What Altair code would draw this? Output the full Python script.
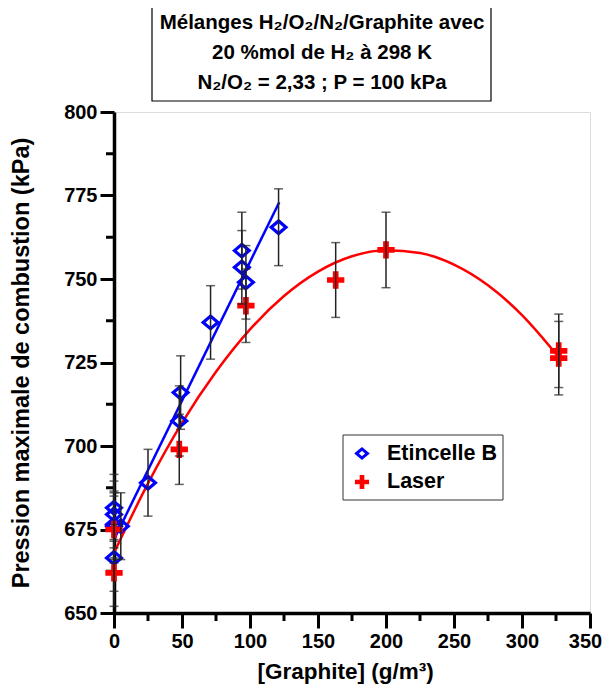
import altair as alt
import pandas as pd

# ---- data ----
etin_x = [0, 0, 0, 0, 0, 5, 25, 48, 49, 71, 94, 94, 97, 121]
etin_y = [681.5, 679.5, 676, 676.5, 666.5, 676, 689, 707.5, 716, 737, 758.5, 753.5, 749, 765.5]
etin_err = [10, 10, 10, 10, 10, 10, 10, 10.5, 11, 11, 11.5, 11, 11, 11.5]

laser_x = [0, 0, 48, 97, 163, 200, 327, 327]
laser_y = [675, 662, 699, 742, 749.7, 758.7, 728.5, 726.3]
laser_err = [10, 10, 10.5, 11, 11.2, 11.3, 11, 11]

fit_b_x = [0, 121.5]
fit_b_y = [672, 773]
fit_l_x = [0, 25, 50, 75, 100, 125, 150, 175, 200, 225, 250, 275, 300, 327]
fit_l_y = [668.0, 688.8, 706.9, 722.2, 734.9, 744.9, 752.2, 756.8, 758.6, 757.8, 754.3, 748.1, 739.2, 726.6]

x_ticks = [0, 50, 100, 150, 200, 250, 300, 350]
x_minor = [25, 75, 125, 175, 225, 275, 325]
y_ticks = [650, 675, 700, 725, 750, 775, 800]
y_minor = [662.5, 687.5, 712.5, 737.5, 762.5, 787.5]

title_lines = ["Mélanges H₂/O₂/N₂/Graphite avec", "20 %mol de H₂ à 298 K", "N₂/O₂ = 2,33 ; P = 100 kPa"]
legend_labels = ["Etincelle B", "Laser"]

FONT = "Liberation Sans"
BLUE = "#0000ff"
RED = "#ff0000"
DIAMOND = "M-1,0L0,-0.85L1,0L0,0.85Z"
CROSS = "M-1,-0.33H-0.33V-1H0.33V-0.33H1V0.33H0.33V1H-0.33V0.33H-1Z"

W, H = 476, 501

df_b = pd.DataFrame({"x": etin_x, "y": etin_y, "err": etin_err})
df_b["lo"] = df_b["y"] - df_b["err"]
df_b["hi"] = df_b["y"] + df_b["err"]
df_l = pd.DataFrame({"x": laser_x, "y": laser_y, "err": laser_err})
df_l["lo"] = df_l["y"] - df_l["err"]
df_l["hi"] = df_l["y"] + df_l["err"]
df_fb = pd.DataFrame({"x": fit_b_x, "y": fit_b_y})
df_fl = pd.DataFrame({"x": fit_l_x, "y": fit_l_y})

xscale = alt.Scale(domain=[0, 350], nice=False, zero=False)
yscale = alt.Scale(domain=[650, 800], nice=False, zero=False)

xaxis = alt.Axis(values=x_ticks, title="[Graphite] (g/m³)", grid=False,
                 labelFont=FONT, labelFontWeight="bold", labelFontSize=20, labelColor="black",
                 labelOffset={"condition": {"test": "datum.value == 350", "value": -5}, "value": 0},
                 titleFont=FONT, titleFontWeight="bold", titleFontSize=22.5, titleColor="black",
                 tickSize=15, tickWidth=3, tickColor="black", domainWidth=3.5, domainColor="black",
                 labelPadding=3, titlePadding=9, titleX=231, labelFlush=False)
yaxis = alt.Axis(values=y_ticks, title="Pression maximale de combustion (kPa)", grid=False,
                 labelFont=FONT, labelFontWeight="bold", labelFontSize=20, labelColor="black",
                 titleFont=FONT, titleFontWeight="bold", titleFontSize=23.5, titleColor="black",
                 tickSize=14, tickWidth=3, tickColor="black", domainWidth=3.5, domainColor="black",
                 labelPadding=3, titlePadding=30, labelFlush=False)

X = lambda: alt.X("x:Q", scale=xscale, axis=xaxis)
Y = lambda f="y": alt.Y(f"{f}:Q", scale=yscale, axis=yaxis)

fit_b = alt.Chart(df_fb).mark_line(color=BLUE, strokeWidth=2.5).encode(x=X(), y=Y())
fit_l = alt.Chart(df_fl).mark_line(color=RED, strokeWidth=2.5, interpolate="monotone").encode(x=X(), y=Y())

pts_b = alt.Chart(df_b).mark_point(shape=DIAMOND, size=220, filled=False, color=BLUE, strokeWidth=3.2, opacity=1).encode(x=X(), y=Y())
pts_l = alt.Chart(df_l).mark_point(shape=CROSS, size=300, filled=True, color=RED, opacity=1).encode(x=X(), y=Y())

def errbars(df):
    bar = alt.Chart(df).mark_rule(color="#222222", strokeWidth=1.5).encode(x=X(), y=Y("lo"), y2="hi:Q")
    cap_lo = alt.Chart(df).mark_tick(color="#222222", orient="horizontal", size=9, thickness=1.5).encode(x=X(), y=Y("lo"))
    cap_hi = alt.Chart(df).mark_tick(color="#222222", orient="horizontal", size=9, thickness=1.5).encode(x=X(), y=Y("hi"))
    return [bar, cap_lo, cap_hi]

# minor ticks
df_xm = pd.DataFrame({"x": x_minor})
minor_x = alt.Chart(df_xm).mark_rule(color="black", strokeWidth=3).encode(
    x=X(), y=alt.value(H), y2=alt.value(H + 8))
df_ym = pd.DataFrame({"y": y_minor})
minor_y = alt.Chart(df_ym).mark_rule(color="black", strokeWidth=3).encode(
    y=Y(), x=alt.value(-8), x2=alt.value(0))

# title box
df_one = pd.DataFrame({"a": [0]})
tbox = alt.Chart(df_one).mark_rect(fill="white", stroke="black", strokeWidth=1.2).encode(
    x=alt.value(38), x2=alt.value(377), y=alt.value(-110), y2=alt.value(-11))
df_t = pd.DataFrame({"t": title_lines, "py": [-89, -59, -29]})
ttext = alt.Chart(df_t).mark_text(font=FONT, fontWeight="bold", fontSize=20.5, color="black",
                                  align="center", baseline="middle").encode(
    x=alt.value(208), y=alt.Y("py:Q", scale=None), text="t:N")

# legend
lbox = alt.Chart(df_one).mark_rect(fill="white", stroke="#333333", strokeWidth=1).encode(
    x=alt.value(229), x2=alt.value(389), y=alt.value(323), y2=alt.value(388))
df_leg = pd.DataFrame({"t": legend_labels, "py": [341.5, 370]})
leg_d = alt.Chart(df_one).mark_point(shape=DIAMOND, size=120, filled=False, color=BLUE, strokeWidth=3, opacity=1).encode(
    x=alt.value(248), y=alt.value(341.5))
leg_c = alt.Chart(df_one).mark_point(shape=CROSS, size=200, filled=True, color=RED, opacity=1).encode(
    x=alt.value(248), y=alt.value(370))
leg_t = alt.Chart(df_leg).mark_text(font=FONT, fontWeight="bold", fontSize=21.5, color="black",
                                    align="left", baseline="middle").encode(
    x=alt.value(273), y=alt.Y("py:Q", scale=None), text="t:N")

layers = [minor_x, minor_y, fit_b, fit_l, pts_b, pts_l] + errbars(df_b) + errbars(df_l) + [tbox, ttext, lbox, leg_d, leg_c, leg_t]

chart = alt.layer(*layers).properties(
    width=W, height=H,
    padding={"left": 106, "top": 104, "right": 13, "bottom": 73},
    autosize=alt.AutoSizeParams(type="none"),
).configure_view(stroke="black", strokeWidth=2.5).configure(background="white")

chart.save("out.html", embed_options={"renderer": "svg", "actions": False})
